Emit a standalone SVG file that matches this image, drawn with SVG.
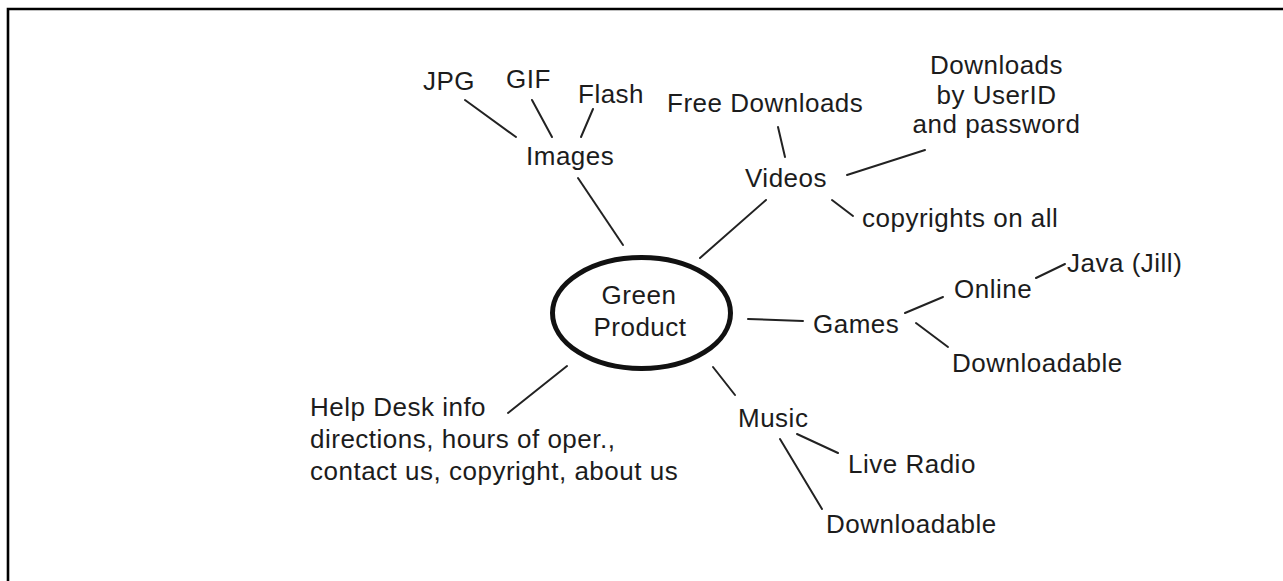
<svg xmlns="http://www.w3.org/2000/svg" width="1283" height="581" viewBox="0 0 1283 581">
<style>
  text { font-family: "Liberation Sans", Arial, sans-serif; font-size: 26px; fill: #1c1c1c; letter-spacing: 0.5px; }
  .mid { text-anchor: middle; }
  .conn line { stroke: #222; stroke-width: 2; stroke-linecap: round; }
</style>
<rect width="1283" height="581" fill="#fff"/>
<path d="M8,581 V9 H1283" fill="none" stroke="#000" stroke-width="2.6"/>
<g id="connectors" class="conn">
  <line x1="465" y1="100" x2="516" y2="137"/>
  <line x1="532" y1="100" x2="552" y2="137"/>
  <line x1="593" y1="109" x2="581" y2="137"/>
  <line x1="578" y1="178" x2="623" y2="245"/>
  <line x1="778" y1="127" x2="785" y2="157"/>
  <line x1="847" y1="175" x2="925" y2="150"/>
  <line x1="832" y1="200" x2="853" y2="216"/>
  <line x1="766" y1="200" x2="700" y2="258"/>
  <line x1="748" y1="319" x2="803" y2="321"/>
  <line x1="905" y1="313" x2="943" y2="297"/>
  <line x1="916" y1="323" x2="948" y2="347"/>
  <line x1="1036" y1="278" x2="1065" y2="264"/>
  <line x1="508" y1="413" x2="567" y2="366"/>
  <line x1="713" y1="367" x2="735" y2="395"/>
  <line x1="797" y1="434" x2="838" y2="453"/>
  <line x1="780" y1="439" x2="822" y2="509"/>
</g>
<g id="green-product">
  <ellipse cx="641.5" cy="313" rx="89" ry="55.5" fill="none" stroke="#111" stroke-width="5"/>
  <text class="mid" x="639" y="304">Green</text>
  <text class="mid" x="640" y="336">Product</text>
</g>
<g id="images"><text x="526" y="165">Images</text></g>
<g id="jpg"><text x="423" y="90">JPG</text></g>
<g id="gif"><text x="506" y="88">GIF</text></g>
<g id="flash"><text x="578" y="103">Flash</text></g>
<g id="videos"><text x="745" y="187">Videos</text></g>
<g id="free-downloads"><text x="667" y="112">Free Downloads</text></g>
<g id="downloads-userid">
  <text class="mid" x="996.5" y="74">Downloads</text>
  <text class="mid" x="996.5" y="103.5">by UserID</text>
  <text class="mid" x="996.5" y="133">and password</text>
</g>
<g id="copyrights"><text x="862" y="227">copyrights on all</text></g>
<g id="games"><text x="813" y="333">Games</text></g>
<g id="online"><text x="954" y="298">Online</text></g>
<g id="java"><text x="1067" y="272">Java (Jill)</text></g>
<g id="games-downloadable"><text x="952" y="372">Downloadable</text></g>
<g id="help-desk">
  <text x="310" y="416">Help Desk info</text>
  <text x="310" y="448">directions, hours of oper.,</text>
  <text x="310" y="480">contact us, copyright, about us</text>
</g>
<g id="music"><text x="738" y="427">Music</text></g>
<g id="live-radio"><text x="848" y="473">Live Radio</text></g>
<g id="music-downloadable"><text x="826" y="533">Downloadable</text></g>
</svg>
